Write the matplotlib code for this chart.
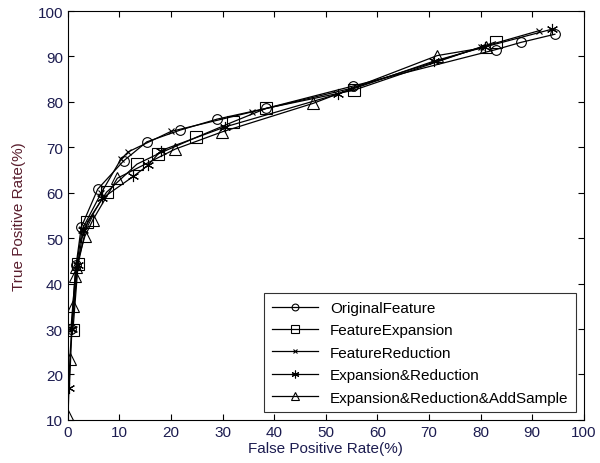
import matplotlib
matplotlib.use("Agg")
import matplotlib.pyplot as plt

plt.rcParams['font.family'] = ['Liberation Sans', 'DejaVu Sans']

# ------------------- ROC data -------------------
orig_fpr = [0.6, 1.6, 2.6, 5.8, 10.8, 15.3, 21.8, 28.9, 38.5, 55.3, 82.9, 87.8, 94.4]
orig_tpr = [30.0, 44.0, 52.4, 60.8, 67.0, 71.2, 73.8, 76.2, 78.6, 83.5, 91.5, 93.1, 94.9]

exp_fpr = [1.0, 2.0, 3.8, 7.5, 13.4, 17.4, 24.9, 32.0, 38.5, 55.5, 82.9]
exp_tpr = [29.8, 44.3, 53.6, 60.1, 66.3, 68.5, 72.2, 75.6, 78.6, 82.6, 93.2]

red_fpr = [0.8, 1.7, 2.8, 6.5, 10.3, 11.7, 20.0, 35.7, 55.0, 80.0, 91.4]
red_tpr = [30.0, 44.0, 52.0, 60.0, 67.4, 69.0, 73.5, 77.8, 83.0, 92.0, 95.7]

expred_fpr = [0.3, 0.8, 1.9, 3.0, 6.7, 12.7, 15.6, 18.1, 30.5, 52.3, 71.0, 80.8, 93.8]
expred_tpr = [17.0, 30.0, 44.0, 51.7, 58.8, 63.6, 66.1, 69.3, 74.5, 81.7, 89.0, 92.1, 96.0]

add_fpr = [0.05, 0.4, 1.0, 1.4, 1.6, 3.3, 4.9, 9.6, 20.8, 29.9, 47.6, 71.6, 81.0]
add_tpr = [10.9, 23.4, 35.1, 41.7, 43.6, 50.4, 54.1, 63.2, 69.6, 73.4, 79.7, 90.2, 92.0]

labels = ["OriginalFeature", "FeatureExpansion", "FeatureReduction",
          "Expansion&Reduction", "Expansion&Reduction&AddSample"]
x_ticks = [0, 10, 20, 30, 40, 50, 60, 70, 80, 90, 100]
y_ticks = [10, 20, 30, 40, 50, 60, 70, 80, 90, 100]

# ------------------- Plot -------------------
fig = plt.figure(figsize=(6.0, 4.64), dpi=100)
ax = fig.add_axes([0.113, 0.093, 0.86, 0.881])

style = dict(color='black', linewidth=0.9, markerfacecolor='none',
             markeredgecolor='black', markeredgewidth=0.8)
ax.plot(orig_fpr, orig_tpr, marker='o', markersize=7, label=labels[0], **style)
ax.plot(exp_fpr, exp_tpr, marker='s', markersize=8, label=labels[1], **style)
ax.plot(red_fpr, red_tpr, marker='x', markersize=5, label=labels[2], **style)
ax.plot(expred_fpr, expred_tpr, marker=(6, 2, 0), markersize=8, label=labels[3], **style)
ax.plot(add_fpr, add_tpr, marker='^', markersize=8, label=labels[4], **style)

ax.set_xlim(0, 100)
ax.set_ylim(10, 100)
ax.set_xticks(x_ticks)
ax.set_yticks(y_ticks)
ax.tick_params(direction='in', top=True, right=True, length=4,
               labelsize=11, labelcolor='#1c1c50')
ax.set_xlabel("False Positive Rate(%)", fontsize=11, color='#1c1c50', labelpad=2)
ax.set_ylabel("True Positive Rate(%)", fontsize=11, color='#5a1e2e', labelpad=8)

leg = ax.legend(loc='lower right', fontsize=11, frameon=True, fancybox=False,
                edgecolor='black', handlelength=3.0, borderaxespad=0.5,
                labelspacing=0.55, markerscale=0.7, borderpad=0.5)
leg.get_frame().set_linewidth(0.8)

plt.savefig("out.png", dpi=100)
plt.close()
